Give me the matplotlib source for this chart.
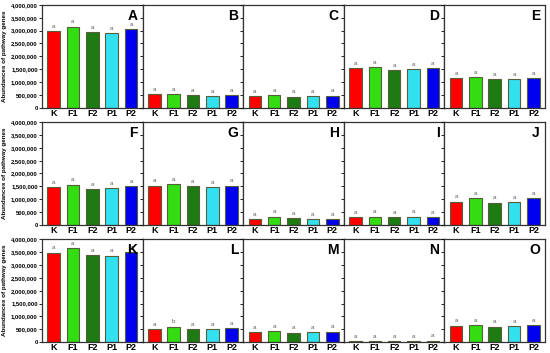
import numpy as np
from matplotlib import pyplot as plt

plt.rcParams['font.family'] = ['Liberation Sans', 'DejaVu Sans']

groups = ['K', 'F1', 'F2', 'P1', 'P2']
colors = ['#ff0000', '#33dd11', '#1e7a12', '#33e0f0', '#0000ee']

panels = ['A', 'B', 'C', 'D', 'E',
          'F', 'G', 'H', 'I', 'J',
          'K', 'L', 'M', 'N', 'O']

# abundances, one list per panel (K, F1, F2, P1, P2)
val_A = [2980000, 3150000, 2940000, 2890000, 3050000]
val_B = [520000, 540000, 490000, 450000, 490000]
val_C = [450000, 490000, 430000, 450000, 470000]
val_D = [1530000, 1580000, 1460000, 1510000, 1550000]
val_E = [1140000, 1190000, 1100000, 1120000, 1150000]
val_F = [1460000, 1570000, 1390000, 1440000, 1510000]
val_G = [1530000, 1590000, 1510000, 1480000, 1530000]
val_H = [220000, 320000, 260000, 230000, 220000]
val_I = [300000, 320000, 310000, 320000, 300000]
val_J = [910000, 1040000, 870000, 880000, 1050000]
val_K = [3480000, 3660000, 3380000, 3360000, 3500000]
val_L = [510000, 600000, 510000, 510000, 550000]
val_M = [390000, 430000, 360000, 390000, 400000]
val_N = [40000, 30000, 30000, 30000, 50000]
val_O = [640000, 670000, 600000, 630000, 670000]

values = [val_A, val_B, val_C, val_D, val_E,
          val_F, val_G, val_H, val_I, val_J,
          val_K, val_L, val_M, val_N, val_O]

letters = [['a'] * 5 for _ in panels]
letters[11] = ['a', 'b', 'a', 'a', 'a']

fig, axes = plt.subplots(3, 5, figsize=(5.5, 3.53), dpi=100, sharey=True)
plt.subplots_adjust(left=0.0764, right=0.991, top=0.986, bottom=0.031,
                    wspace=0, hspace=0.14)

x = np.arange(len(groups))
for i, ax in enumerate(axes.flat):
    vals = values[i]
    ax.bar(x, vals, width=0.65, color=colors, edgecolor='#55603a', linewidth=0.8)
    for xi, v, lt in zip(x, vals, letters[i]):
        ax.text(xi, v + 90000, lt, ha='center', va='bottom', fontsize=4.5,
                color='#666666')
    ax.set_ylim(0, 4000000)
    ax.set_xlim(-0.6, 4.6)
    ax.set_yticks(np.arange(0, 4000001, 500000))
    ax.set_xticks(x)
    ax.set_xticklabels(groups, fontsize=6.5, fontweight='bold')
    ax.tick_params(axis='x', length=0, pad=1)
    ax.tick_params(axis='y', length=2, width=0.6, pad=1, labelsize=4.2)
    for s in ax.spines.values():
        s.set_color('#333333')
        s.set_linewidth(0.9)
    ax.text(0.95, 0.96, panels[i], transform=ax.transAxes, ha='right', va='top',
            fontsize=10, fontweight='bold')
    if i % 5 == 0:
        ax.set_yticklabels(['{:,}'.format(t) for t in range(0, 4000001, 500000)],
                           fontweight='bold')
        ax.set_ylabel('Abundances of pathway genes', fontsize=4.5,
                      fontweight='bold', labelpad=3)

plt.savefig('out.png', dpi=100)
